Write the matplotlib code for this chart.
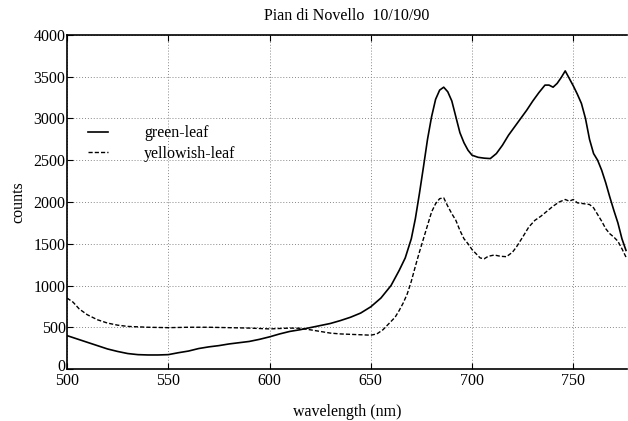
import matplotlib
matplotlib.use("Agg")
import matplotlib.pyplot as plt
import matplotlib.transforms as mtransforms
import numpy as np

title = "Pian di Novello  10/10/90"
xlabel = "wavelength (nm)"
ylabel = "counts"

green_wl = [500, 505, 510, 515, 520, 525, 530, 535, 540, 545, 550, 555, 560, 565, 570,
            575, 580, 585, 590, 595, 600, 605, 610, 615, 620, 625, 630, 635, 640, 645,
            650, 655, 660, 664, 667, 670, 672, 674, 676, 678, 680, 682, 684, 686, 688,
            690, 692, 694, 696, 698, 700, 703, 706, 709, 712, 715, 718, 721, 724, 727,
            730, 733, 736, 738, 740, 742, 744, 746, 748, 750, 752, 754, 756, 758, 760,
            762, 764, 766, 768, 770, 772, 774, 776]
green_cnt = [400, 360, 320, 280, 240, 210, 185, 172, 168, 168, 172, 195, 215, 245, 265,
             280, 300, 315, 330, 355, 385, 420, 450, 470, 495, 520, 545, 580, 620, 670,
             745, 850, 1000, 1180, 1330, 1560, 1800, 2100, 2420, 2750, 3020, 3230, 3340, 3375, 3320,
             3210, 3020, 2830, 2710, 2620, 2560, 2535, 2525, 2520, 2580, 2680, 2800, 2900, 3000, 3100,
             3210, 3310, 3400, 3400, 3375, 3420, 3490, 3570, 3480, 3390, 3290, 3180, 3000, 2750, 2580,
             2500, 2380, 2230, 2060, 1900, 1750, 1560, 1420]

yellow_wl = [500, 503, 506, 510, 515, 520, 525, 530, 535, 540, 550, 560, 570, 580, 590,
             600, 605, 610, 615, 620, 625, 630, 635, 640, 645, 650, 653, 656, 659, 662,
             664, 666, 668, 670, 672, 674, 676, 678, 680, 682, 684, 686, 688, 690, 692,
             694, 696, 698, 700, 702, 704, 706, 708, 711, 714, 717, 720, 722, 725, 728,
             731, 734, 737, 740, 743, 746, 748, 750, 752, 755, 758, 760, 762, 764, 766,
             768, 770, 772, 774, 776]
yellow_cnt = [850, 800, 720, 650, 590, 550, 525, 510, 505, 500, 495, 500, 500, 495, 490,
              480, 485, 490, 488, 470, 450, 430, 420, 415, 410, 405, 420, 470, 545, 620,
              700, 790, 900, 1050, 1230, 1400, 1560, 1720, 1880, 1980, 2040, 2050, 1950, 1860, 1780,
              1660, 1560, 1500, 1430, 1380, 1330, 1320, 1350, 1365, 1350, 1345, 1400, 1465, 1580, 1700,
              1780, 1830, 1890, 1950, 2000, 2030, 2010, 2030, 1990, 1980, 1970, 1930, 1850, 1770, 1680,
              1620, 1580, 1530, 1440, 1340]

xticks = [500, 550, 600, 650, 700, 750]
yticks = [0, 500, 1000, 1500, 2000, 2500, 3000, 3500, 4000]

plt.rcParams['font.family'] = ['Liberation Serif', 'DejaVu Serif']

fig = plt.figure(figsize=(6.28, 4.21), dpi=100)
ax = fig.add_axes([67/628, 1-369/421, 560/628, 334/421])

ax.plot(green_wl, green_cnt, color='black', lw=1.2, label='green-leaf')
ax.plot(yellow_wl, yellow_cnt, color='black', lw=1.0, linestyle=(0, (3, 1.5)), label='yellowish-leaf')

ax.set_xlim(500, 776.5)
ax.set_ylim(0, 4000)
ax.set_xticks(xticks)
ax.set_yticks(yticks)
ax.grid(True, color='#888888', linestyle=(0, (1, 2)), lw=0.7)
ax.tick_params(axis='both', direction='in', length=4, labelsize=11.5, top=True)
ax.tick_params(axis='x', pad=3)
ax.tick_params(axis='y', pad=1)
for s in ['left', 'bottom', 'top']:
    ax.spines[s].set_linewidth(1.2)
ax.spines['right'].set_visible(False)

# nudge the "0" y tick label up slightly so it just clears the "500" x label
fig.canvas.draw()
ylabs = ax.get_yticklabels()
ylabs[0].set_transform(ylabs[0].get_transform() +
                       mtransforms.ScaledTranslation(0, 3/72, fig.dpi_scale_trans))

ax.set_title(title, fontsize=11.5, pad=11)
ax.set_xlabel(xlabel, fontsize=11.5, labelpad=11)
ax.set_ylabel(ylabel, fontsize=11.5, labelpad=5.5)

ax.legend(loc='upper left', bbox_to_anchor=(0.011, 0.773), frameon=False,
          handlelength=1.25, handletextpad=2.3, fontsize=11.5, labelspacing=0.3)

fig.savefig('out.png', dpi=100)
